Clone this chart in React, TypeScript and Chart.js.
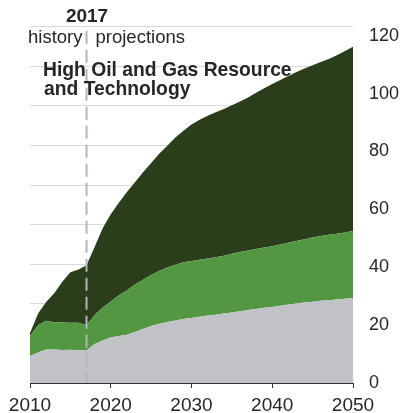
import React, { useEffect, useRef } from "react";
import { Chart, registerables } from "chart.js";

Chart.register(...registerables);

const years: number[] = [
  2010, 2011, 2012, 2013, 2014, 2015, 2016, 2017, 2018, 2019,
  2020, 2021, 2022, 2023, 2024, 2025, 2026, 2027, 2028, 2029,
  2030, 2031, 2032, 2033, 2034, 2035, 2036, 2037, 2038, 2039,
  2040, 2041, 2042, 2043, 2044, 2045, 2046, 2047, 2048, 2049, 2050,
];

const grayLayer: number[] = [
  9.3, 10.5, 11.6, 11.6, 11.4, 11.5, 11.3, 11.2, 13.5, 14.7,
  15.7, 16.2, 16.7, 17.6, 18.7, 19.7, 20.5, 21.1, 21.6, 22.1,
  22.5, 22.9, 23.3, 23.6, 24.0, 24.4, 24.8, 25.2, 25.6, 26.0,
  26.3, 26.7, 27.1, 27.5, 27.8, 28.1, 28.4, 28.6, 28.9, 29.1, 29.4,
];

const lightGreenLayer: number[] = [
  6.9, 9.5, 9.9, 9.4, 9.5, 9.3, 9.5, 8.8, 10.0, 11.4,
  12.5, 14.1, 15.3, 16.4, 17.0, 17.6, 18.2, 18.8, 19.3, 19.6,
  19.7, 19.7, 19.7, 19.9, 20.0, 20.3, 20.5, 20.6, 20.7, 20.8,
  21.0, 21.2, 21.4, 21.6, 21.9, 22.2, 22.4, 22.6, 22.7, 22.9, 23.1,
];

const darkGreenLayer: number[] = [
  1.1, 4.0, 6.5, 10.0, 14.1, 17.5, 18.4, 20.7, 23.5, 27.4,
  30.1, 32.0, 34.0, 35.4, 37.1, 38.7, 40.5, 42.1, 43.9, 45.5,
  47.1, 48.4, 49.4, 50.1, 50.7, 51.3, 52.0, 52.9, 54.0, 55.1,
  56.0, 56.8, 57.6, 58.4, 59.0, 59.5, 60.1, 60.8, 61.7, 62.7, 63.7,
];

const yTicks: number[] = [0, 20, 40, 60, 80, 100, 120];
const xTicks: number[] = [2010, 2020, 2030, 2040, 2050];
const dividerYear = 2017;
const dividerLabel = "2017";
const historyLabel = "history";
const projectionsLabel = "projections";
const titleLines: string[] = ["High Oil and Gas Resource", "and Technology"];

const FONT = "'Liberation Sans', Arial, sans-serif";
const TEXT = "#262626";

const overlayPlugin = {
  id: "overlay",
  afterDatasetsDraw(chart: any) {
    const { ctx, scales, chartArea } = chart;
    const x = scales.x.getPixelForValue(dividerYear);
    ctx.save();
    ctx.strokeStyle = "#b4b5b9";
    ctx.lineWidth = 2;
    ctx.setLineDash([13, 6]);
    ctx.beginPath();
    ctx.moveTo(x, chartArea.top + 4);
    ctx.lineTo(x, chartArea.bottom);
    ctx.stroke();
    ctx.setLineDash([]);

    ctx.fillStyle = TEXT;
    ctx.textBaseline = "alphabetic";
    ctx.font = `bold 19px ${FONT}`;
    ctx.textAlign = "center";
    ctx.fillText(dividerLabel, x + 0.5, 21.8);

    ctx.font = `18.5px ${FONT}`;
    ctx.textAlign = "right";
    ctx.fillText(historyLabel, x - 4, 43);
    ctx.textAlign = "left";
    ctx.fillText(projectionsLabel, x + 9, 43);

    ctx.font = `bold 19.3px ${FONT}`;
    ctx.textAlign = "left";
    ctx.fillText(titleLines[0], 43, 76);
    ctx.fillText(titleLines[1], 44, 95);
    ctx.restore();
  },
};

export default function App() {
  const canvasRef = useRef<HTMLCanvasElement | null>(null);

  useEffect(() => {
    if (!canvasRef.current) return;
    const mk = (arr: number[]) => arr.map((v, i) => ({ x: years[i], y: v }));
    const chart = new Chart(canvasRef.current, {
      type: "line",
      data: {
        datasets: [
          {
            data: mk(grayLayer),
            backgroundColor: "#c1c2c6",
            borderWidth: 0,
            pointRadius: 0,
            fill: "origin",
            tension: 0,
            yAxisID: "y",
          },
          {
            data: mk(lightGreenLayer),
            backgroundColor: "#549742",
            borderWidth: 0,
            pointRadius: 0,
            fill: "-1",
            tension: 0,
            yAxisID: "y",
          },
          {
            data: mk(darkGreenLayer),
            backgroundColor: "#2b3e1c",
            borderWidth: 0,
            pointRadius: 0,
            fill: "-1",
            tension: 0,
            yAxisID: "y",
          },
        ],
      },
      options: {
        animation: false,
        responsive: true,
        maintainAspectRatio: false,
        layout: { padding: { top: 26, left: 0, right: 0, bottom: 0 } },
        plugins: {
          legend: { display: false },
          tooltip: { enabled: false },
        },
        scales: {
          x: {
            type: "linear",
            min: 2010,
            max: 2050,
            afterBuildTicks: (s: any) => {
              s.ticks = xTicks.map((v) => ({ value: v }));
            },
            afterFit: (s: any) => {
              s.height = 30;
            },
            ticks: {
              color: TEXT,
              font: { family: FONT, size: 19 },
              padding: 6,
              maxRotation: 0,
              callback: (v: any) => String(v),
            },
            grid: {
              display: true,
              drawOnChartArea: false,
              drawTicks: true,
              tickLength: 5,
              color: "#333333",
            },
            border: { display: true, color: "#333333", width: 1 },
          },
          y: {
            position: "right",
            stacked: true,
            min: 0,
            max: 123.1,
            afterBuildTicks: (s: any) => {
              s.ticks = yTicks.map((v) => ({ value: v }));
            },
            afterFit: (s: any) => {
              s.width = 50;
            },
            ticks: {
              color: TEXT,
              font: { family: FONT, size: 18 },
              padding: 16,
              callback: (v: any) => String(v),
            },
            grid: { display: false, drawTicks: false },
            border: { display: false },
          },
          grid9: {
            type: "linear",
            position: "left",
            min: 0,
            max: 9,
            ticks: { display: false, stepSize: 1 },
            afterFit: (s: any) => {
              s.width = 30;
            },
            grid: {
              display: true,
              drawTicks: false,
              color: "#d9d9d9",
              lineWidth: 1,
            },
            border: { display: false },
          },
        },
      } as any,
      plugins: [overlayPlugin],
    });
    return () => chart.destroy();
  }, []);

  return (
    <div
      style={{
        position: "fixed",
        left: 0,
        top: 0,
        width: 403,
        height: 413,
        background: "#ffffff",
      }}
    >
      <canvas ref={canvasRef} />
    </div>
  );
}
